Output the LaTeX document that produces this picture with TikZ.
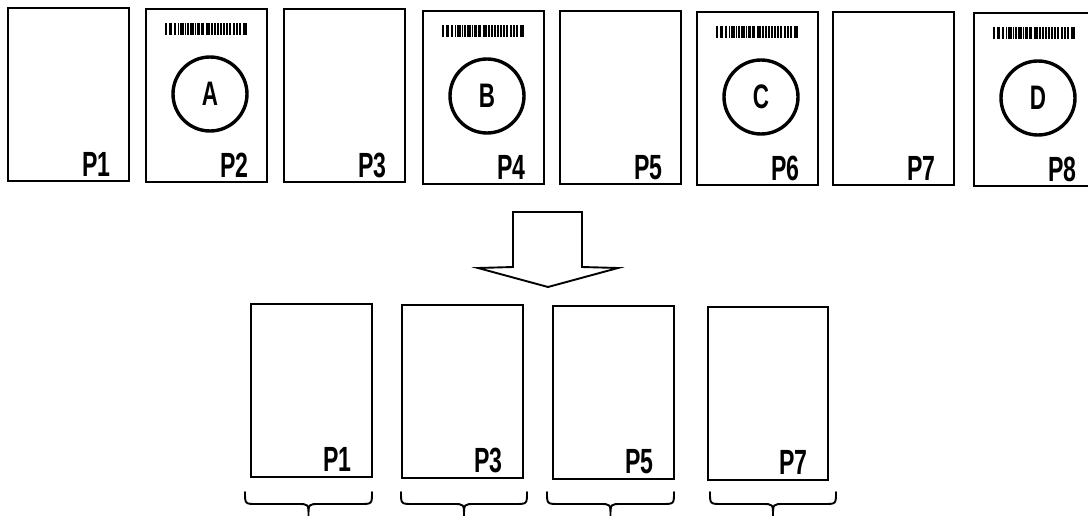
\documentclass[tikz,border=0pt]{standalone}
\usepackage{fontspec}
\newfontfamily\pagefont[FakeStretch=0.66]{Liberation Sans}
\usetikzlibrary{calc}

\tikzset{
  pg/.style={draw, line width=1.9pt, minimum width=121pt, minimum height=173pt,
             inner sep=0pt, outer sep=0pt, anchor=north west, fill=white},
  lbl/.style={anchor=base east, inner sep=0pt,
              font=\pagefont\bfseries\fontsize{35}{37}\selectfont},
  ring/.style={circle, draw, line width=3.4pt, minimum size=74pt, inner sep=0pt,
               font=\pagefont\bfseries\fontsize{34}{36}\selectfont},
  outline/.style={line width=1.9pt, line join=miter},
  bracepath/.style={line width=1.9pt, line cap=round}
}

% bar offsets and widths of the code strip printed on each marker sheet
\newcommand{\codestrip}[1]{%
  \foreach \o/\w in {0/2.2, 4.3/2.2, 8.7/1.8, 12.7/1.4, 14.7/1.8, 17.3/1.5, 19.7/1.5,
                     22.3/1.5, 24.7/1.8, 27.3/1.8, 30/1.4, 32.3/2.8, 36/2.5, 41/2.5,
                     44/1.4, 45.7/1.8, 49/2.2, 52/1.8, 55/1.8, 57.7/2.5, 61/1.5,
                     64.3/1.8, 67.7/2.5, 71/2.2, 74.3/1.5, 77.7/4.3}
    \fill ($(#1.north west)+(19+\o,14)$) rectangle ++(\w,12);}

\begin{document}
\begin{tikzpicture}[x=1pt, y=-1pt]
\useasboundingbox (0,0) rectangle (1088,516);
\clip (0,0) rectangle (1088,516);

% input stack: plain sheets alternate with marker sheets
\node[pg] (t1) at (8,8) {};
\node[pg] (t2) at (146,9) {};
\node[pg] (t3) at (284,9) {};
\node[pg] (t4) at (423,11) {};
\node[pg] (t5) at (560,11) {};
\node[pg] (t6) at (697,12) {};
\node[pg] (t7) at (833,12) {};
\node[pg] (t8) at (974,13) {};

\foreach \n in {1,...,8}
  \node[lbl] (lt\n) at ($(t\n.south east)+(-18,-4)$) {P\n};

\foreach \n/\c in {2/A, 4/B, 6/C, 8/D} {
  \codestrip{t\n}
  \node[ring] (m\c) at ($(t\n.north west)+(64,85)$) {\c};
}

% block arrow
\draw[outline] (513,212) -- (582,212) -- (582,267) -- (618,268) -- (548,287)
  -- (478,268) -- (513,267) -- cycle;

% output: plain sheets only
\node[pg] (b1) at (251,304) {};
\node[pg] (b3) at (402,305) {};
\node[pg] (b5) at (553,306) {};
\node[pg, minimum width=120pt] (b7) at (708,307) {};

\foreach \n in {1,3,5,7}
  \node[lbl] (lb\n) at ($(b\n.south east)+(-20,-6)$) {P\n};

% braces under each output sheet
\foreach \a/\b in {245/372, 401/527, 547/674, 710/836} {
  \pgfmathsetmacro{\m}{(\a+\b)/2}
  \draw[bracepath] (\a,492) .. controls (\a,504) .. (\a+12,504) -- (\m-11,504)
    .. controls (\m,504) .. (\m,516)
    .. controls (\m,504) .. (\m+11,504) -- (\b-12,504)
    .. controls (\b,504) .. (\b,492);
}
\end{tikzpicture}
\end{document}
